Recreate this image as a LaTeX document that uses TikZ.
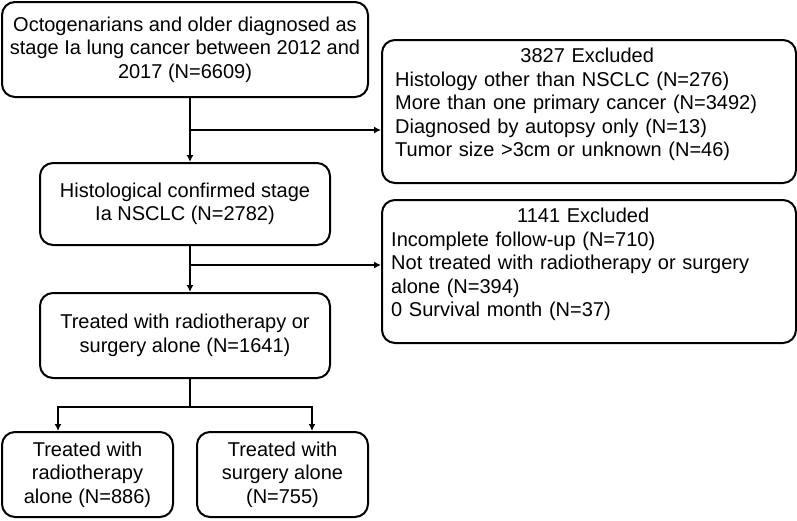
\documentclass[tikz,border=0pt]{standalone}
\usepackage{fontspec}
\setmainfont{Liberation Sans}
\usetikzlibrary{arrows.meta}

\begin{document}
\begin{tikzpicture}[x=1pt, y=-1pt,
        box/.style={draw, line width=2pt, rounded corners=13pt, inner sep=0pt, align=center, font=\fontsize{20}{23.5}\selectfont},
        note/.style={anchor=north west, inner sep=0pt, text width=384pt, align=left, font=\fontsize{20}{23.5}\selectfont},
        link/.style={line width=2pt, -{Latex[length=7pt, width=7pt]}},
        stem/.style={line width=2pt}]
\useasboundingbox (0,0) rectangle (797,520);
        % main column
        \node[box, minimum width=366pt, minimum height=95pt] (start) at (185, 49.5) {Octogenarians and older diagnosed as\\stage Ia lung cancer between 2012 and\\2017 (N=6609)};
        \node[box, minimum width=290pt, minimum height=82pt] (hist) at (185, 204) {Histological confirmed stage\\Ia NSCLC (N=2782)};
        \node[box, minimum width=290pt, minimum height=85pt] (treat) at (185, 335.5) {Treated with radiotherapy or\\surgery alone (N=1641)};
        \node[box, minimum width=171pt, minimum height=85pt] (radio) at (87.5, 474.5) {Treated with\\radiotherapy\\alone (N=886)};
        \node[box, minimum width=171pt, minimum height=85pt] (surg) at (282.5, 474.5) {Treated with\\surgery alone\\(N=755)};
        % excluded
        \node[box, minimum width=414pt, minimum height=143pt] (excl1) at (589, 111.5) {};
        \node[note] (excl1txt) at ([xshift=14pt, yshift=-9pt]excl1.north west) {\makebox[\linewidth]{3827 Excluded}\\Histology other than NSCLC (N=276)\\More than one primary cancer (N=3492)\\Diagnosed by autopsy only (N=13)\\Tumor size >3cm or unknown (N=46)};
        \node[box, minimum width=414pt, minimum height=143pt] (excl2) at (589, 271.5) {};
        \node[note] (excl2txt) at ([xshift=10pt, yshift=-9pt]excl2.north west) {\makebox[\linewidth]{1141 Excluded}\\Incomplete follow-up (N=710)\\Not treated with radiotherapy or surgery\\alone (N=394)\\0 Survival month (N=37)};
        \coordinate (br1) at (190, 130);
        \coordinate (br2) at (190, 265);
        \coordinate (sp) at (190, 407);
        \draw[link] ([xshift=5pt]start.south) -- ([xshift=5pt]hist.north);
        \draw[link] (br1) -- (br1 -| excl1.west);
        \draw[link] ([xshift=5pt]hist.south) -- ([xshift=5pt]treat.north);
        \draw[link] (br2) -- (br2 -| excl2.west);
        \draw[stem] ([xshift=5pt]treat.south) -- (sp);
        \draw[link] (sp) -| ([xshift=-29.5pt]radio.north);
        \draw[link] (sp) -| ([xshift=29.5pt]surg.north);
\end{tikzpicture}
\end{document}
